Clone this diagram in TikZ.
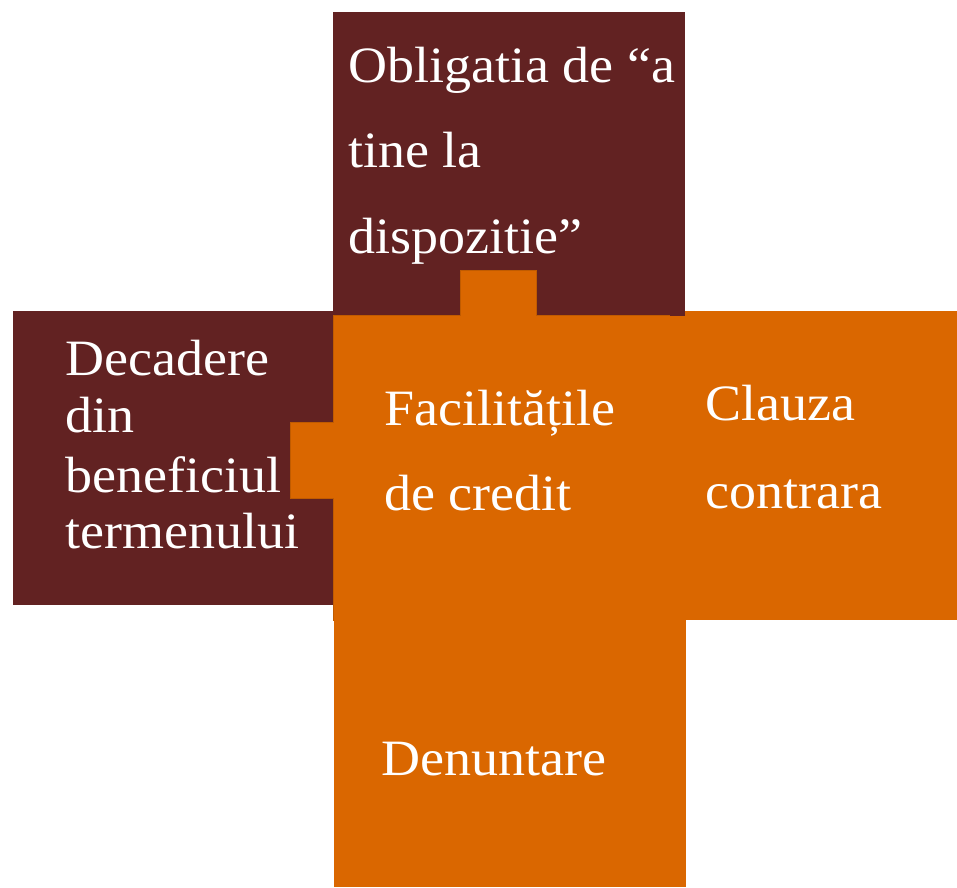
\documentclass[tikz,border=0pt]{standalone}
\usepackage{fontspec}
\setmainfont{Liberation Serif}[FakeStretch=1.06]
\usepackage{xcolor}
\definecolor{darkbrown}{RGB}{98,34,34}
\definecolor{burntorange}{RGB}{218,103,0}
\tikzset{
  darkpiece/.style={fill=darkbrown},
  orangepiece/.style={fill=burntorange, draw=burntorange!88!black, line width=0.3pt},
  piecetext/.style={anchor=base west, inner sep=0pt, text=white,
    font=\fontsize{29}{35}\selectfont}
}

\begin{document}
\begin{tikzpicture}[x=0.02cm,y=-0.02cm]
  \useasboundingbox (0,0) rectangle (957,887);

  % dark pieces
  \fill[darkpiece] (13,311) rectangle (333,605);
  \fill[darkpiece] (333,12) rectangle (685,316);

  % centre piece with its tabs
  \filldraw[orangepiece] (333,315) -- (460,315) -- (460,270) -- (536,270)
    -- (536,315) -- (685,315) -- (685,620) -- (333,620) -- (333,498)
    -- (290,498) -- (290,422) -- (333,422) -- cycle;

  % orange side pieces
  \fill[burntorange] (684.5,311) rectangle (957,620);
  \fill[burntorange] (333.5,619.5) rectangle (686,887);
  \fill[darkpiece] (670,311) rectangle (685,316);

  % texts
  \node[piecetext] (obl1) at (348,82)  {Obligatia de “a};
  \node[piecetext] (obl2) at (348,167) {tine la};
  \node[piecetext] (obl3) at (348,253) {dispozitie”};

  \node[piecetext] (dec1) at (65,375) {Decadere};
  \node[piecetext] (dec2) at (65,432) {din};
  \node[piecetext] (dec3) at (65,492) {beneficiul};
  \node[piecetext] (dec4) at (65,548) {termenului};

  \node[piecetext] (fac1) at (384,425) {Facilitățile};
  \node[piecetext] (fac2) at (384,510) {de credit};

  \node[piecetext] (cla1) at (705,420) {Clauza};
  \node[piecetext] (cla2) at (705,508) {contrara};

  \node[piecetext] (den) at (381,775) {Denuntare};
\end{tikzpicture}
\end{document}
